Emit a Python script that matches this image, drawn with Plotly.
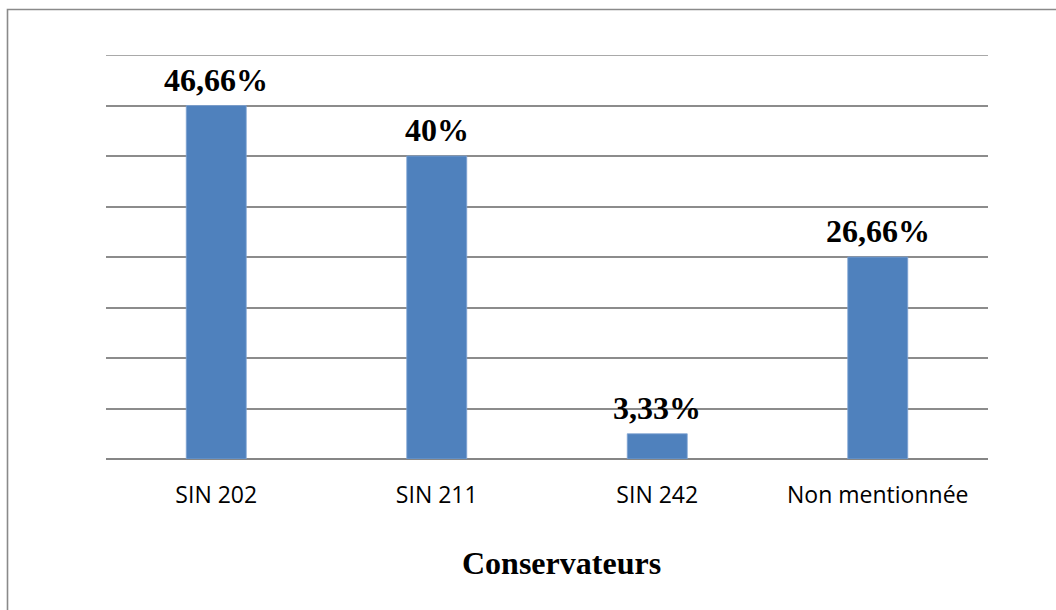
import plotly.graph_objects as go

# Conservateurs: share of responses per category (%)
categories = ["SIN 202", "SIN 211", "SIN 242", "Non mentionnée"]
values = [46.66, 40, 3.33, 26.66]
value_labels = ["46,66%", "40%", "3,33%", "26,66%"]
axis_title = "Conservateurs"

W, H = 1056, 610
ML, MR, MT, MB = 106, 68, 55, 151
PW, PH = W - ML - MR, H - MT - MB


def px_x(x):
    return (x - ML) / PW


def px_y(y):
    return (H - MB - y) / PH


step = 20 / 3
y_top = 8 * step

fig = go.Figure(
    go.Bar(
        x=categories,
        y=values,
        width=0.272,
        marker=dict(color="#4F81BD", line=dict(color="#7FA3D3", width=0.8)),
        hoverinfo="x+y",
    )
)

for cat, val, lab in zip(categories, values, value_labels):
    fig.add_annotation(
        x=cat, y=val, text=f"<b>{lab}</b>", showarrow=False,
        yanchor="middle", yshift=26,
        font=dict(family="Liberation Serif", size=32, color="#000000"),
    )

fig.add_annotation(
    xref="paper", yref="paper", x=px_x(561), y=px_y(563),
    text=f"<b>{axis_title}</b>", showarrow=False,
    xanchor="center", yanchor="middle",
    font=dict(family="Liberation Serif", size=32, color="#000000"),
)

# gridline on the upper edge of the value axis
fig.add_shape(
    type="line", xref="paper", yref="y", x0=0, x1=1, y0=y_top, y1=y_top,
    line=dict(color="#8c8c8c", width=1.5), layer="below",
)

# outer chart border (left and top edges visible)
fig.add_shape(
    type="rect", xref="paper", yref="paper",
    x0=px_x(7.5), x1=px_x(1070), y0=px_y(625), y1=px_y(9.5),
    line=dict(color="#8a8a8a", width=1.6), layer="below",
)

fig.update_layout(
    width=W, height=H,
    margin=dict(l=ML, r=MR, t=MT, b=MB),
    paper_bgcolor="white", plot_bgcolor="white",
    showlegend=False,
    bargap=0.728,
)
fig.update_xaxes(
    showgrid=False, showline=False, ticks="",
    tickfont=dict(family="Open Sans", size=23, color="#000000"),
    ticklabelstandoff=20,
)
fig.update_yaxes(
    range=[0, y_top], dtick=step, tick0=0,
    showgrid=True, gridcolor="#8c8c8c", gridwidth=1.5,
    zeroline=True, zerolinecolor="#868686", zerolinewidth=2,
    showticklabels=False, ticks="", showline=False,
)

fig.write_html("out.html")
